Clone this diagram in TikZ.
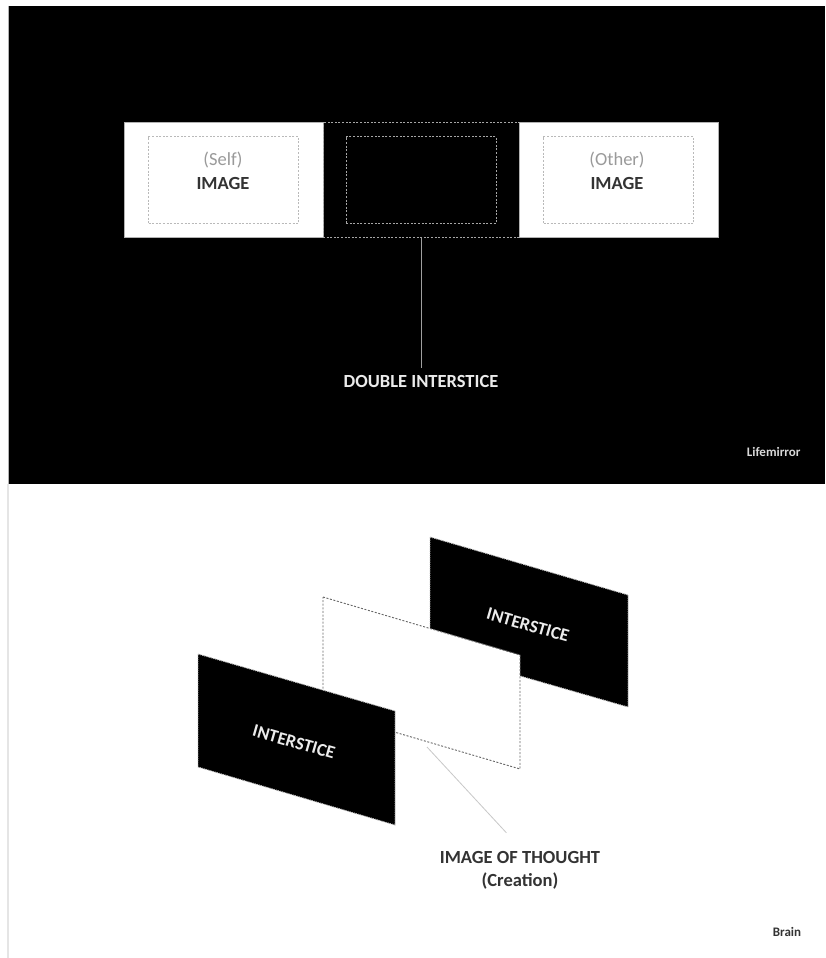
\documentclass[tikz,border=0pt]{standalone}
\usepackage{fontspec}
\setmainfont{Carlito}
\definecolor{softgray}{HTML}{9A9A9A}
\definecolor{darktxt}{HTML}{333333}
\definecolor{linegray}{HTML}{C8C8C8}
\begin{document}
\begin{tikzpicture}[x=1pt,y=-1pt,
  whitebox/.style={draw=gray!60, fill=white, line width=0.8pt, minimum width=199pt, minimum height=115pt, inner sep=0pt},
  innerdash/.style={draw=gray!55, line width=0.9pt, dash pattern=on 2pt off 1.6pt, minimum width=150pt, minimum height=87pt, inner sep=0pt},
  middash/.style={draw=gray!75, line width=0.9pt, dash pattern=on 2pt off 1.6pt, minimum width=196pt, minimum height=115pt, inner sep=0pt},
  boxtext/.style={align=center, font=\fontsize{18.5}{24}\selectfont, text=darktxt},
  plane/.style={fill=black, draw=gray!50, line width=0.9pt, dash pattern=on 1.2pt off 1pt},
  midplane/.style={fill=white, draw=gray!80!black, line width=0.9pt, dash pattern=on 2pt off 1.6pt},
  planetext/.style={font=\bfseries\fontsize{18}{20}\selectfont, text=white!92!black},
  conn/.style={line width=0.8pt}
]
\useasboundingbox (0,0) rectangle (825,958);
\fill[white] (0,0) rectangle (825,958);
\fill[black] (8,6) rectangle (825,484);
\draw[gray!60, line width=1pt] (8,6) -- (8,484);
\draw[gray!20, line width=1.2pt] (8,484) -- (8,958);

% top section
\node[whitebox] (self) at (223.5,180) {};
\node[innerdash] (selfin) at (self.center) {};
\node[boxtext] (selftxt) at (223,171) {{\color{softgray}(Self)}\\\textbf{IMAGE}};

\node[middash, draw=gray!70] (mid) at (421,180) {};
\node[innerdash, draw=gray!70] (midin) at (mid.center) {};

\node[whitebox] (other) at (618.5,180) {};
\node[innerdash] (otherin) at (other.center) {};
\node[boxtext] (othertxt) at (617,171) {{\color{softgray}(Other)}\\\textbf{IMAGE}};

\node[font=\bfseries\fontsize{18.5}{22}\selectfont, text=white!92!black] (dbl) at (421,381) {DOUBLE INTERSTICE};
\draw[conn, draw=gray!75, shorten >=3pt] (mid.south) -- (dbl.north);

\node[font=\bfseries\fontsize{13}{15}\selectfont, text=white!85!black, anchor=east] (life) at (804,452) {Lifemirror};

% bottom section
\path[plane] (430,537) -- (628,595) -- (628,707) -- (430,650) -- cycle;
\node[planetext, rotate=-16] (backtxt) at (528,625) {INTERSTICE};

\path[midplane] (323,597) -- (520,655) -- (520,769) -- (323,711) -- cycle;
\coordinate (thoughtpt) at (427,747);

\path[plane] (198,654) -- (395,711) -- (395,825) -- (198,767) -- cycle;
\node[planetext, rotate=-16] (fronttxt) at (294,742) {INTERSTICE};

\node[align=center, font=\bfseries\fontsize{18.5}{23}\selectfont, text=darktxt] (thought) at (520,870) {IMAGE OF THOUGHT\\(Creation)};
\draw[conn, draw=linegray, shorten >=20pt] (thoughtpt) -- (thought.north);

\node[font=\bfseries\fontsize{13}{15}\selectfont, text=darktxt] (brain) at (787,932) {Brain};
\end{tikzpicture}
\end{document}
